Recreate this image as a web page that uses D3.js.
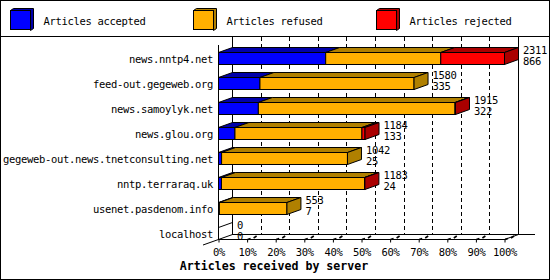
<!DOCTYPE html>
<html>
<head>
<meta charset="utf-8">
<script src="https://cdn.jsdelivr.net/npm/d3@7"></script>
<style>
  body { margin: 0; background: #fff; }
  svg { display: block; }
  text { font-family: "DejaVu Sans Mono", "Liberation Mono", monospace; font-size: 10.5px; letter-spacing: -0.32px; fill: #000; }
  .title { font-weight: bold; font-size: 11.6px; letter-spacing: 0; }
</style>
</head>
<body>
<svg id="chart" width="550" height="280"></svg>
<script>
// data
const servers = ["news.nntp4.net", "feed-out.gegeweb.org", "news.samoylyk.net", "news.glou.org",
                 "gegeweb-out.news.tnetconsulting.net", "nntp.terraraq.uk", "usenet.pasdenom.info", "localhost"];
const accepted = [866, 335, 322, 133, 25, 24, 7, 0];
const refused  = [930, 1245, 1589, 1026, 1017, 1156, 546, 0];
const rejected = [515, 0, 4, 25, 0, 3, 0, 0];
const seriesNames = ["Articles accepted", "Articles refused", "Articles rejected"];
const percentTicks = [0, 10, 20, 30, 40, 50, 60, 70, 80, 90, 100];

const colors = ["#0000ff", "#ffb000", "#ff0000"];
const darks  = ["#0000aa", "#b08000", "#aa0000"];

const svg = d3.select("#chart");
const dx = 14, dy = 5;           // 3d depth
const floorY = 239.5, topY = 36.5;

const totals = servers.map((s, i) => accepted[i] + refused[i] + rejected[i]);
const x = d3.scaleLinear().domain([0, d3.max(totals)]).range([218.5, 504.5]);
const pct = d3.scaleLinear().domain([0, 100]).range(x.range());
const y = d3.scalePoint().domain(servers).range([59, 234]);
const barH = 12;

// frame
svg.append("rect").attr("x", 0.5).attr("y", 0.5).attr("width", 549).attr("height", 279)
    .attr("fill", "#fff").attr("stroke", "#000");
svg.append("line").attr("x1", 0).attr("x2", 550).attr("y1", topY).attr("y2", topY)
    .attr("stroke", "#000");

// legend
const legendX = [10.5, 193.5, 376.5];
seriesNames.forEach(function (name, i) {
    let g = svg.append("g").attr("transform", `translate(${legendX[i]},${10.5})`);
    g.append("path").attr("d", "M0,0 L3,-2 L23,-2 L23,18 L20,20 L20,0 Z")
        .attr("fill", darks[i]).attr("stroke", "#000");
    g.append("rect").attr("width", 20).attr("height", 19)
        .attr("fill", colors[i]).attr("stroke", "#000");
    g.append("text").attr("x", 33).attr("y", 14).text(name);
});

const line = (x1, y1, x2, y2) => svg.append("line")
    .attr("x1", x1).attr("y1", y1).attr("x2", x2).attr("y2", y2)
    .attr("stroke", "#000").attr("shape-rendering", "crispEdges");

// back plane, grid
const bx0 = x.range()[0] + dx, bx1 = x.range()[1] + dx, backY = floorY - dy;
percentTicks.slice(1, -1).forEach(function (p) {
    line(pct(p) + dx, topY, pct(p) + dx, backY).attr("stroke-dasharray", "4,3");
});
line(bx0, topY, bx0, backY);
line(bx1, topY, bx1, backY);
line(bx0, backY, bx1 + 16, backY);
line(x.range()[0], topY + 8, x.range()[0], floorY);
line(x.range()[0], floorY, x.range()[1], floorY);
svg.append("line").attr("x1", bx0).attr("y1", backY).attr("x2", 203).attr("y2", 245)
    .attr("stroke", "#000");
svg.append("line").attr("x1", x.range()[1]).attr("y1", floorY).attr("x2", bx1).attr("y2", backY)
    .attr("stroke", "#000");

// x axis
let x_axis = d3.axisBottom(pct).tickValues(percentTicks).tickFormat(d => d + "%")
    .tickSize(3).tickPadding(6);
let xAxis = svg.append("g").attr("transform", `translate(0,${floorY})`).call(x_axis);
xAxis.select(".domain").remove();
xAxis.selectAll("line").attr("stroke", "#000");
xAxis.attr("font-size", null).attr("font-family", null);
xAxis.selectAll(".tick").filter(d => d > 0)
    .append("path").attr("d", "M0,0 L3,-1 M6,-1.5 L9,-3.5").attr("stroke", "#000").attr("stroke-width", 1.6);

svg.append("text").attr("class", "title").attr("x", 274).attr("y", 270)
    .attr("text-anchor", "middle").text("Articles received by server");

// category labels
servers.forEach(function (s) {
    svg.append("text").attr("x", 213).attr("y", y(s) + 3.5).attr("text-anchor", "end").text(s);
});

// bars
function block(x0, x1, top, color, dark, side) {
    let bottom = top + barH;
    svg.append("rect").attr("x", x0).attr("y", top).attr("width", x1 - x0).attr("height", barH)
        .attr("fill", color).attr("stroke", "#000");
    svg.append("path").attr("d", `M${x0},${top} L${x0 + dx},${top - dy} L${x1 + dx},${top - dy} L${x1},${top} Z`)
        .attr("fill", dark).attr("stroke", "#000");
    if (side) {
        svg.append("path").attr("d", `M${x1},${top} L${x1 + dx},${top - dy} L${x1 + dx},${bottom - dy} L${x1},${bottom} Z`)
            .attr("fill", dark).attr("stroke", "#000");
    }
}

servers.forEach(function (s, i) {
    let vals = [accepted[i], refused[i], rejected[i]];
    let top = Math.round(y(s) - barH / 2) - 0.5;
    let last = -1;
    vals.forEach((v, k) => { if (v > 0) last = k; });
    let cum = 0;
    vals.forEach(function (v, k) {
        if (v <= 0) return;
        block(x(cum), x(cum + v), top, colors[k], darks[k], k === last);
        cum += v;
    });
    if (last < 0) {
        svg.append("path").attr("d", `M${x(0)},${top} L${x(0) + dx},${top - dy}`).attr("stroke", "#000");
    }
    let lx = x(totals[i]) + dx + 4.5;
    svg.append("text").attr("x", lx).attr("y", top + 1.5).text(totals[i]);
    svg.append("text").attr("x", lx).attr("y", top + barH + 0.5).text(accepted[i]);
});
</script>
</body>
</html>
